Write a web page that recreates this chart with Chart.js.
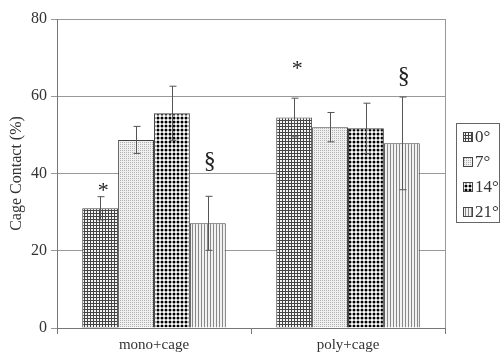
<!DOCTYPE html>
<html>
<head>
<meta charset="utf-8">
<script src="https://cdn.jsdelivr.net/npm/chart.js@4"></script>
<style>
  body { margin: 0; background: #fff; }
  #wrap { width: 500px; height: 364px; }
</style>
</head>
<body>
<div id="wrap"><canvas id="myChart" width="500" height="364"></canvas></div>
<script>
// データ
const categories = ['mono+cage', 'poly+cage'];
const seriesNames = ['0°', '7°', '14°', '21°'];
const values0 = [31, 54.5];
const values7 = [48.7, 52];
const values14 = [55.6, 51.7];
const values21 = [27.1, 47.8];
const errors0 = [3, 5];
const errors7 = [3.5, 3.8];
const errors14 = [7, 6.5];
const errors21 = [7, 12];
// 注記 (系列番号, カテゴリ番号, 記号, 高さ)
const marks = [
  [0, 0, '*', 35.5],
  [3, 0, '§', 43],
  [0, 1, '*', 67],
  [3, 1, '§', 65]
];

// パターン作成
function makePattern(w, h, draw) {
  const c = document.createElement('canvas');
  c.width = w; c.height = h;
  const g = c.getContext('2d');
  draw(g);
  return document.getElementById('myChart').getContext('2d').createPattern(c, 'repeat');
}

const patGrid = makePattern(3, 3, g => {
  g.fillStyle = '#f4f4f4'; g.fillRect(0, 0, 3, 3);
  g.fillStyle = '#444'; g.fillRect(0, 0, 3, 1); g.fillRect(0, 0, 1, 3);
});
const patDots = makePattern(2, 2, g => {
  g.fillStyle = '#f0f0f0'; g.fillRect(0, 0, 2, 2);
  g.fillStyle = '#b0b0b0'; g.fillRect(0, 0, 1, 1);
});
const patCheck = makePattern(4, 4, g => {
  g.fillStyle = '#fff'; g.fillRect(0, 0, 4, 4);
  g.fillStyle = '#000';
  g.beginPath(); g.arc(2, 2, 1.5, 0, Math.PI * 2); g.fill();
});
const patVert = makePattern(3, 1, g => {
  g.fillStyle = '#f2f2f2'; g.fillRect(0, 0, 3, 1);
  g.fillStyle = '#888'; g.fillRect(0, 0, 1, 1);
});

const allValues = [values0, values7, values14, values21];
const allErrors = [errors0, errors7, errors14, errors21];
const patterns = [patGrid, patDots, patCheck, patVert];

const serif = '"Liberation Serif", "DejaVu Serif", serif';

// エラーバーと注記
const extraPlugin = {
  id: 'extras',
  afterDatasetsDraw(chart) {
    const ctx = chart.ctx;
    const y = chart.scales.y;
    const area = chart.chartArea;
    ctx.save();
    // 右枠
    ctx.strokeStyle = '#999';
    ctx.lineWidth = 1;
    ctx.beginPath();
    ctx.moveTo(area.right + 0.5, area.top);
    ctx.lineTo(area.right + 0.5, area.bottom);
    ctx.stroke();

    ctx.strokeStyle = '#555';
    allErrors.forEach((errs, di) => {
      const meta = chart.getDatasetMeta(di);
      errs.forEach((e, i) => {
        const x = Math.round(meta.data[i].x) + 0.5;
        const v = allValues[di][i];
        const top = y.getPixelForValue(v + e);
        const bot = y.getPixelForValue(v - e);
        ctx.beginPath();
        ctx.moveTo(x, top); ctx.lineTo(x, bot);
        ctx.moveTo(x - 3, top); ctx.lineTo(x + 4, top);
        ctx.moveTo(x - 3, bot); ctx.lineTo(x + 4, bot);
        ctx.stroke();
      });
    });

    ctx.fillStyle = '#222';
    ctx.textAlign = 'center';
    ctx.textBaseline = 'middle';
    marks.forEach(([di, ci, sym, h]) => {
      const meta = chart.getDatasetMeta(di);
      ctx.font = (sym === '*' ? '22px ' : '24px ') + serif;
      ctx.fillText(sym, meta.data[ci].x + (sym === '*' ? 3 : 2), y.getPixelForValue(h));
    });

    // 凡例
    const lx = 456, ly = 123, lw = 43, lh = 99;
    ctx.strokeStyle = '#666';
    ctx.strokeRect(lx + 0.5, ly + 0.5, lw, lh);
    ctx.textAlign = 'left';
    ctx.font = '17px ' + serif;
    seriesNames.forEach((name, i) => {
      const cy = ly + 14 + i * 25;
      ctx.fillStyle = patterns[i];
      ctx.fillRect(463, cy - 5, 10, 10);
      ctx.strokeStyle = '#444';
      ctx.strokeRect(463.5, cy - 4.5, 9, 9);
      ctx.fillStyle = '#333';
      ctx.fillText(name, 475, cy + 1);
    });
    ctx.restore();
  }
};

new Chart(document.getElementById('myChart'), {
  type: 'bar',
  data: {
    labels: categories,
    datasets: seriesNames.map((name, i) => ({
      label: name,
      data: allValues[i],
      backgroundColor: patterns[i],
      borderColor: '#444',
      borderWidth: 1,
      categoryPercentage: 0.74,
      barPercentage: 1
    }))
  },
  options: {
    responsive: false,
    animation: false,
    layout: { padding: { top: 19, right: 55, left: 0, bottom: 0 } },
    plugins: {
      legend: { display: false },
      tooltip: { enabled: false }
    },
    scales: {
      x: {
        grid: { display: true, drawOnChartArea: false, color: '#777', tickLength: 6, offset: true },
        border: { color: '#777' },
        ticks: { color: '#333', font: { family: serif, size: 15 }, padding: 2 },
        afterFit(scale) { scale.height = 36; }
      },
      y: {
        min: 0,
        max: 80,
        ticks: { stepSize: 20, color: '#333', font: { family: serif, size: 16 }, padding: 4 },
        grid: { color: '#999', tickLength: 6 },
        border: { color: '#777' },
        title: {
          display: true,
          text: 'Cage Contact (%)',
          color: '#333',
          font: { family: serif, size: 16 },
          padding: { top: 7, bottom: 0 }
        },
        afterFit(scale) { scale.width = 57; }
      }
    }
  },
  plugins: [extraPlugin]
});
</script>
</body>
</html>
